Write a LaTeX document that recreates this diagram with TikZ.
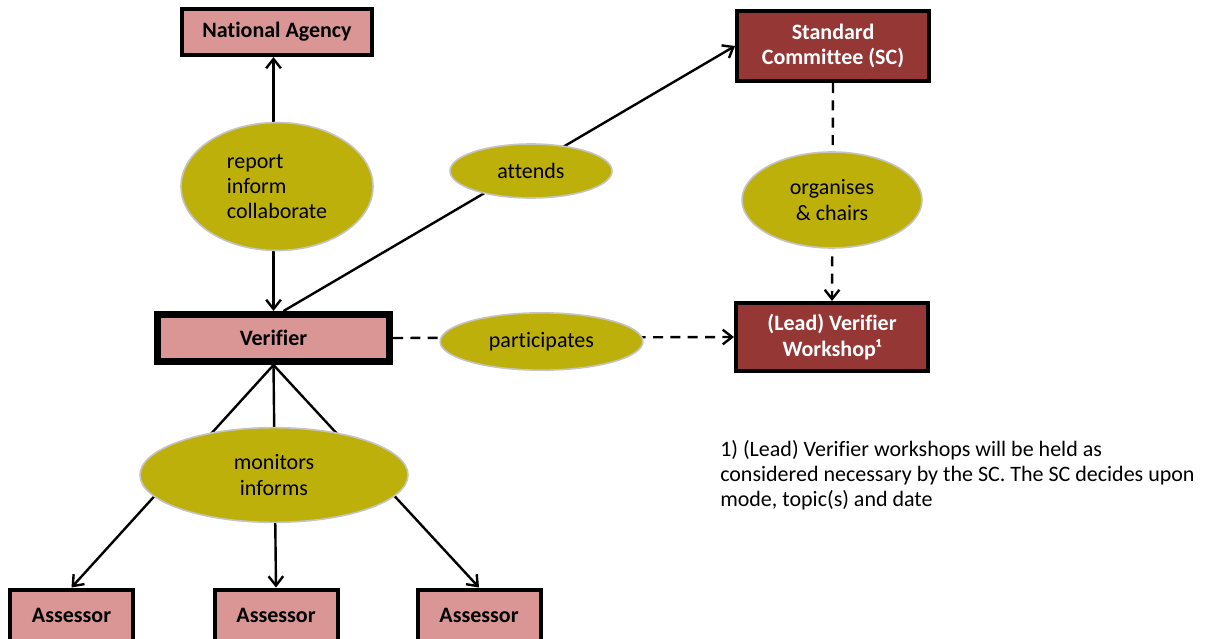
\documentclass[tikz,border=0pt]{standalone}
\usepackage{fontspec}
\setmainfont{Carlito}[Ligatures={NoCommon}]
\usetikzlibrary{arrows.meta,shapes.geometric,calc}
\definecolor{pinkf}{HTML}{D99694}
\definecolor{darkr}{HTML}{953735}
\definecolor{ellfill}{HTML}{BDB00A}
\definecolor{ellline}{HTML}{C4C4C4}
\begin{document}
\begin{tikzpicture}[x=0.75pt,y=-0.75pt,
  font=\fontsize{16.5}{19}\selectfont,
  box/.style={draw=black, line width=3pt, rectangle, inner sep=0pt, align=center,
    font=\fontsize{16.5}{19}\selectfont\bfseries},
  pinkbox/.style={box, fill=pinkf},
  redbox/.style={box, fill=darkr, text=white},
  ell/.style={ellipse, fill=ellfill, draw=ellline, line width=1.2pt, inner sep=0pt},
  conn/.style={line width=1.8pt, -{Straight Barb[length=7pt,width=11pt]}},
  dconn/.style={conn, dash pattern=on 7.5pt off 5.5pt},
]
\useasboundingbox (0,0) rectangle (1214,639);
% boxes
\node[pinkbox, minimum width=142.5pt, minimum height=34.5pt] (na) at (277,32) {National Agency};
\node[redbox, minimum width=144pt, minimum height=52.5pt] (sc) at (833,46) {Standard\\Committee (SC)};
\node[pinkbox, line width=5.25pt, minimum width=174pt, minimum height=35.25pt] (ver) at (273.5,338) {Verifier};
\node[redbox, minimum width=144pt, minimum height=51pt] (ws) at (832,337) {(Lead) Verifier\\Workshop¹};
\node[pinkbox, minimum width=92.25pt, minimum height=38.25pt] (a1) at (71.5,615) {Assessor};
\node[pinkbox, minimum width=92.25pt, minimum height=38.25pt] (a2) at (276,615) {Assessor};
\node[pinkbox, minimum width=92.25pt, minimum height=38.25pt] (a3) at (479,615) {Assessor};
% connectors
\draw[conn, {Straight Barb[length=7pt,width=11pt]}-{Straight Barb[length=7pt,width=11pt]}] (ver.north) -- (ver.north |- na.south);
\draw[conn] ($(ver.north)+(10,0)$) -- (sc.west);
\draw[dconn] (sc.south) -- (ws.north);
\draw[dconn] (ver.east) -- (ws.west);
\draw[conn] (ver.south) -- (a1.north);
\draw[conn] (ver.south) -- (a2.north);
\draw[conn] (ver.south) -- (a3.north);
% ellipses
\node[ell, align=left, minimum width=144pt, minimum height=96pt] (e1) at (277,186.5) {report\\inform\\collaborate};
\node[ell, minimum width=121.5pt, minimum height=40.5pt] (e2) at (531,171) {attends};
\node[ell, align=center, minimum width=135pt, minimum height=72pt] (e3) at (832,200) {organises\\\& chairs};
\node[ell, minimum width=152pt, minimum height=43pt] (e4) at (541.5,341.5) {participates};
\node[ell, align=center, minimum width=201pt, minimum height=71pt] (e5) at (274,475) {monitors\\informs};
% footnote
\node[anchor=north west, inner sep=0pt, align=left, font=\fontsize{16.5}{18.75}\selectfont] (fn) at (720,440)
  {1) (Lead) Verifier workshops will be held as\\considered necessary by the SC. The SC decides upon\\mode, topic(s) and date};
\end{tikzpicture}
\end{document}
